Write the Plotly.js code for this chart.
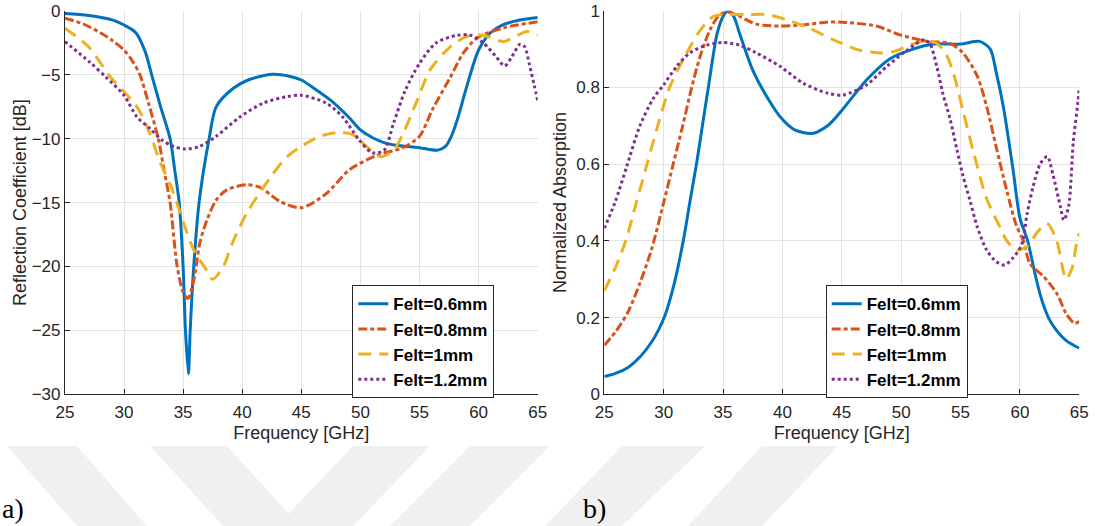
<!DOCTYPE html>
<html>
<head>
<meta charset="utf-8">
<script src="https://cdn.plot.ly/plotly-3.0.1.min.js"></script>
<style>html,body{margin:0;padding:0;background:#fff;}#chart{width:1095px;height:526px;}</style>
</head>
<body>
<div id="chart"></div>
<script>
// ---------- data ----------
const seriesNames = ["Felt=0.6mm", "Felt=0.8mm", "Felt=1mm", "Felt=1.2mm"];
const freqTicks = [25, 30, 35, 40, 45, 50, 55, 60, 65];

// (a) Reflection coefficient [dB]
const s11_06_f = [25, 27, 29, 30, 31, 31.8, 32.34, 33.1, 33.9, 34.3, 34.67, 35.0, 35.2, 35.45, 35.6, 35.9, 36.35, 37.2, 37.8, 39.25, 40.5, 42.5, 44, 45, 46, 47.5, 49, 50, 51, 52, 53, 55, 56.5, 57.2, 57.7, 58.2, 59, 60, 61, 62, 63.5, 65];
const s11_06_v = [-0.2, -0.35, -0.7, -1.1, -1.7, -3.2, -5.0, -7.5, -10.0, -12.5, -15, -20, -25, -28.4, -25, -20, -15, -10, -7.5, -6.05, -5.4, -4.95, -5.1, -5.4, -6.0, -7.0, -8.3, -9.3, -9.9, -10.3, -10.5, -10.7, -10.9, -10.6, -9.8, -8.5, -5.9, -3.05, -1.7, -1.1, -0.7, -0.5];

const s11_08_f = [25, 26.5, 28, 29, 30, 30.7, 31.35, 32.1, 32.9, 33.4, 33.9, 34.5, 35.0, 35.4, 35.8, 36.1, 36.4, 37, 37.8, 38.7, 40.4, 41.5, 43.2, 45, 47.1, 49.1, 51.4, 53.6, 55, 56.1, 57.6, 58.7, 59.9, 62.2, 65];
const s11_08_v = [-0.57, -1.0, -1.7, -2.3, -3.05, -3.9, -5.0, -7.3, -10.0, -12.5, -15.0, -20, -22.0, -22.5, -21.5, -20, -18.2, -16.4, -14.8, -14.0, -13.6, -13.8, -14.9, -15.4, -14.3, -12.4, -11.3, -10.7, -9.8, -7.7, -5.2, -3.3, -2.1, -1.3, -0.85];

const s11_1_f = [25, 27, 28.8, 31.1, 32.2, 33.0, 34.1, 35.0, 35.9, 37.0, 37.5, 38.4, 39.2, 40.4, 42.4, 43.8, 45, 46.6, 48.3, 49.4, 50.5, 51.7, 52.8, 53.6, 54.8, 55.9, 57.6, 59.0, 60.4, 62.1, 62.9, 64.1, 65];
const s11_1_v = [-1.35, -2.8, -5.1, -7.5, -9.6, -11.7, -14.0, -16.5, -18.7, -20.3, -21.0, -20.0, -18.1, -15.8, -13.0, -11.4, -10.6, -9.8, -9.5, -9.7, -10.6, -11.4, -10.9, -9.6, -7.0, -4.6, -2.8, -2.0, -1.9, -2.4, -2.1, -1.6, -1.9];

const s11_12_f = [25, 27.1, 28.5, 30, 31.1, 32.2, 33.2, 34.2, 35.2, 36.4, 37.8, 39.8, 41.8, 43.8, 45, 47.1, 48.5, 49.9, 51.0, 52.0, 52.8, 53.8, 55.0, 56.4, 58.2, 59.3, 60.4, 61.5, 62.2, 62.8, 63.5, 63.9, 64.3, 64.7, 65];
const s11_12_v = [-2.4, -4.0, -5.2, -6.6, -8.3, -9.2, -10.1, -10.6, -10.8, -10.6, -9.8, -8.3, -7.2, -6.7, -6.6, -7.2, -8.3, -10.1, -11.1, -10.9, -8.8, -6.2, -4.1, -2.5, -1.9, -1.9, -2.5, -3.6, -4.3, -3.6, -2.6, -2.8, -4.2, -5.8, -7.0];

// (b) Normalized absorption
const abs_06_f = [25, 26, 27, 28, 29, 29.6, 30.1, 30.9, 31.65, 32.2, 32.76, 33.26, 33.76, 34.5, 35.0, 35.4, 35.9, 36.4, 37.5, 38.7, 39.9, 41, 42.5, 43.8, 45, 47.1, 49.06, 51, 52.7, 55, 56.6, 57.5, 58, 58.6, 59.4, 60, 60.65, 61.3, 61.8, 62.4, 63, 63.9, 65];
const abs_06_v = [0.046, 0.055, 0.07, 0.097, 0.137, 0.17, 0.205, 0.29, 0.4, 0.5, 0.6, 0.7, 0.8, 0.94, 0.985, 1.0, 0.985, 0.94, 0.845, 0.775, 0.72, 0.69, 0.68, 0.70, 0.74, 0.82, 0.875, 0.90, 0.913, 0.913, 0.92, 0.90, 0.84, 0.75, 0.59, 0.46, 0.40, 0.31, 0.25, 0.2, 0.17, 0.14, 0.12];

const abs_08_f = [25, 26, 27, 28, 29, 30, 30.8, 31.6, 32.36, 33.06, 33.9, 34.6, 35.3, 36.4, 37.8, 39.8, 41.8, 43.7, 45, 47.9, 49.9, 52.2, 54.1, 55.2, 56.4, 57.2, 58, 58.9, 59.7, 60.3, 60.85, 62, 63.1, 63.9, 64.6, 65];
const abs_08_v = [0.128, 0.165, 0.215, 0.29, 0.38, 0.5, 0.6, 0.70, 0.8, 0.88, 0.95, 0.985, 0.997, 0.985, 0.965, 0.96, 0.963, 0.97, 0.97, 0.96, 0.937, 0.92, 0.915, 0.89, 0.83, 0.75, 0.645, 0.53, 0.44, 0.40, 0.34, 0.307, 0.263, 0.21, 0.185, 0.19];

const abs_1_f = [25, 26, 26.8, 27.7, 28.6, 29.5, 30.5, 31.5, 32.3, 33.1, 34.2, 35.6, 37.0, 38.7, 40.4, 42.3, 44.3, 46.5, 48.2, 49.3, 50.7, 51.9, 53.0, 53.8, 54.4, 55.2, 56.1, 57.2, 58.3, 58.9, 59.7, 60.6, 61.4, 62.3, 63.1, 63.7, 63.9, 64.4, 64.8, 65];
const abs_1_v = [0.27, 0.335, 0.4, 0.5, 0.6, 0.7, 0.8, 0.865, 0.91, 0.95, 0.985, 0.99, 0.99, 0.99, 0.976, 0.954, 0.924, 0.897, 0.89, 0.893, 0.91, 0.92, 0.915, 0.885, 0.837, 0.74, 0.63, 0.51, 0.437, 0.40, 0.376, 0.385, 0.42, 0.445, 0.40, 0.315, 0.30, 0.33, 0.40, 0.42];

const abs_12_f = [25, 25.9, 26.9, 28, 29.1, 30, 31.1, 32.2, 33.6, 35, 36.4, 37.8, 39.8, 41.8, 43.8, 45.1, 47.1, 48.8, 50.5, 51.9, 52.4, 53.0, 53.5, 54.1, 54.7, 55.2, 55.8, 56.4, 57.2, 58, 58.7, 59.4, 60.15, 60.6, 61.1, 61.7, 62.3, 62.8, 63.4, 63.7, 64.1, 64.5, 64.9, 65];
const abs_12_v = [0.433, 0.50, 0.595, 0.70, 0.77, 0.807, 0.855, 0.89, 0.91, 0.917, 0.91, 0.89, 0.855, 0.81, 0.785, 0.78, 0.807, 0.855, 0.897, 0.924, 0.915, 0.855, 0.785, 0.72, 0.637, 0.57, 0.505, 0.437, 0.376, 0.346, 0.337, 0.355, 0.39, 0.47, 0.54, 0.60, 0.62, 0.57, 0.49, 0.454, 0.49, 0.66, 0.765, 0.80];

// ---------- styling ----------
const colors = ["#0072BD", "#D95319", "#EDB120", "#7E2F8E"];
const dashes = ["solid", "9px,3px,4px,3px", "13px,8px", "dot"];
const widths = [3, 3, 3, 3];
const W = 1095, H = 526;
const FONT = "Liberation Sans, Arial, sans-serif";

const leftX = [s11_06_f, s11_08_f, s11_1_f, s11_12_f];
const leftY = [s11_06_v, s11_08_v, s11_1_v, s11_12_v];
const rightX = [abs_06_f, abs_08_f, abs_1_f, abs_12_f];
const rightY = [abs_06_v, abs_08_v, abs_1_v, abs_12_v];

const traces = [];
for (let i = 0; i < 4; i++) {
  traces.push({
    x: leftX[i], y: leftY[i], xaxis: "x", yaxis: "y", type: "scatter", mode: "lines",
    name: seriesNames[i], legend: "legend",
    line: {color: colors[i], width: widths[i], dash: dashes[i], shape: "spline", smoothing: 0.8}
  });
}
for (let i = 0; i < 4; i++) {
  traces.push({
    x: rightX[i], y: rightY[i], xaxis: "x2", yaxis: "y2", type: "scatter", mode: "lines",
    name: seriesNames[i], legend: "legend2",
    line: {color: colors[i], width: widths[i], dash: dashes[i], shape: "spline", smoothing: 0.8}
  });
}

function px(x) { return x / W; }
function py(y) { return 1 - y / H; }

const axisCommon = {
  showgrid: true, gridcolor: "#e3e3e3", gridwidth: 1,
  showline: true, linecolor: "#262626", linewidth: 1,
  ticks: "inside", ticklen: 5, tickcolor: "#262626", tickwidth: 1,
  zeroline: false, automargin: false, mirror: false,
  tickfont: {family: FONT, size: 17, color: "#262626"}
};

const xTitle = {text: "Frequency [GHz]", font: {family: FONT, size: 18, color: "#262626"}, standoff: 5};

const legendCommon = {
  bgcolor: "#ffffff", bordercolor: "#262626", borderwidth: 1,
  font: {family: FONT, size: 17, color: "#000000", weight: "bold"},
  xanchor: "left", yanchor: "top", itemwidth: 30, tracegroupgap: 0
};

// watermark bands (background decoration)
const bands = [
  [[7,446],[77,446],[147,526],[77,526]],
  [[150,446],[227,446],[300,526],[223,526]],
  [[353,446],[430,446],[353,526],[277,526]],
  [[470,446],[550,446],[470,526],[390,526]],
  [[622,446],[705,446],[622,526],[545,526]],
  [[762,446],[838,446],[762,526],[688,526]]
];
const shapes = bands.map(b => ({
  type: "path", xref: "paper", yref: "paper", layer: "below",
  path: "M" + b.map(p => px(p[0]) + "," + py(p[1])).join(" L") + " Z",
  fillcolor: "#f0f0f0", line: {width: 0}
}));

const layout = {
  width: W, height: H,
  margin: {l: 0, r: 0, t: 0, b: 0},
  paper_bgcolor: "#ffffff", plot_bgcolor: "#ffffff",
  font: {family: FONT, color: "#262626"},
  showlegend: true,
  xaxis: Object.assign({}, axisCommon, {
    domain: [px(64.9), px(537.7)], range: [25, 65], tickvals: freqTicks, anchor: "y",
    ticklabelstandoff: 2, title: xTitle
  }),
  yaxis: Object.assign({}, axisCommon, {
    domain: [py(394.3), py(11)], range: [-30, 0], dtick: 5, tick0: 0, anchor: "x",
    title: {text: "Reflection Coefficient [dB]", font: {family: FONT, size: 18, color: "#262626"}, standoff: 0}
  }),
  xaxis2: Object.assign({}, axisCommon, {
    domain: [px(604.3), px(1079.3)], range: [25, 65], tickvals: freqTicks, anchor: "y2",
    ticklabelstandoff: 2, title: xTitle
  }),
  yaxis2: Object.assign({}, axisCommon, {
    domain: [py(394.3), py(10.7)], range: [0, 1], dtick: 0.2, tick0: 0, anchor: "x2",
    title: {text: "Normalized Absorption", font: {family: FONT, size: 18, color: "#262626"}, standoff: 4}
  }),
  legend: Object.assign({}, legendCommon, {x: px(352.3), y: py(285.3)}),
  legend2: Object.assign({}, legendCommon, {x: px(825.7), y: py(285.3)}),
  shapes: shapes,
  annotations: [
    {text: "a)", xref: "paper", yref: "paper", x: px(0), y: py(508), xanchor: "left", yanchor: "middle",
     showarrow: false, font: {family: "Liberation Serif, Times New Roman, serif", size: 28, color: "#000"}},
    {text: "b)", xref: "paper", yref: "paper", x: px(581), y: py(508), xanchor: "left", yanchor: "middle",
     showarrow: false, font: {family: "Liberation Serif, Times New Roman, serif", size: 28, color: "#000"}}
  ]
};

Plotly.newPlot("chart", traces, layout, {displayModeBar: false, staticPlot: true});
</script>
</body>
</html>
